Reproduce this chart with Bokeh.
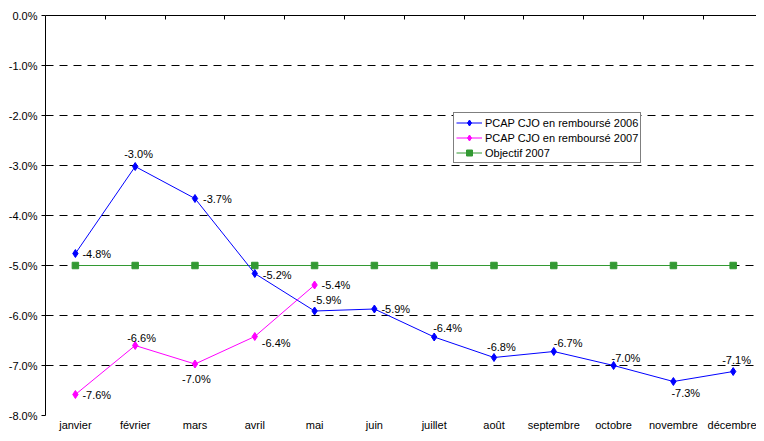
from bokeh.plotting import figure
from bokeh.models import (Range1d, LinearAxis, FixedTicker, PrintfTickFormatter,
                          Grid, ColumnDataSource, CustomLabelingPolicy)
from bokeh.core.properties import value
from bokeh.embed import file_html
from bokeh.resources import INLINE

# ---- data ----
months = ["janvier", "février", "mars", "avril", "mai", "juin", "juillet",
          "août", "septembre", "octobre", "novembre", "décembre"]
pcap_2006 = [-4.76, -3.02, -3.66, -5.16, -5.91, -5.87, -6.43, -6.84, -6.72,
             -7.00, -7.32, -7.12]
pcap_2007 = [-7.58, -6.60, -6.97, -6.42, -5.39]
objectif_2007 = [-5.0] * 12
y_ticks = [0, -1, -2, -3, -4, -5, -6, -7, -8]

# label placement (screen pixel offsets, style only)
off_2006_dx = [7, -11, 8, 8, -2, 7, -1, -7, 0, -2, -2, -11]
off_2006_dy = [0, -13, 0, 1, -11, 0, -9, -11, -9, -8, 11, -12]
off_2007_dx = [7, -8, -13, 7, 7]
off_2007_dy = [0, -8, 15, 6, 0]

FONT = "Liberation Sans"
xs = list(range(1, len(months) + 1))

p = figure(width=756, height=433, x_range=Range1d(0.5, 12.39), y_range=Range1d(-8, 0),
           output_backend="svg", toolbar_location=None,
           min_border_left=45, min_border_right=0, min_border_top=15, min_border_bottom=18)
p.outline_line_color = None
p.background_fill_color = "white"
p.border_fill_color = "white"

# bottom axis: month labels only
xa = p.xaxis[0]
xa.ticker = FixedTicker(ticks=xs)
xa.major_label_overrides = {x: m for x, m in zip(xs, months)}
xa.axis_line_color = None
xa.major_tick_line_color = None
xa.minor_tick_line_color = None
xa.major_tick_out = 0
xa.major_tick_in = 0
xa.minor_tick_out = 0
xa.minor_tick_in = 0
xa.major_label_standoff = 3
xa.major_label_text_font = FONT
xa.major_label_text_font_size = "11px"
xa.major_label_text_color = "black"

# top axis line with ticks between categories (no labels)
top = LinearAxis(ticker=FixedTicker(ticks=[x + 0.5 for x in xs[:-1]]),
                 major_tick_in=4, major_tick_out=0, minor_tick_out=0, minor_tick_in=0,
                 minor_tick_line_color=None,
                 major_label_policy=CustomLabelingPolicy(code="return []"),
                 major_label_standoff=0,
                 axis_line_color="black", major_tick_line_color="black")
p.add_layout(top, "above")

# left axis
ya = p.yaxis[0]
ya.ticker = FixedTicker(ticks=y_ticks)
ya.formatter = PrintfTickFormatter(format="%.1f%%")
ya.major_tick_out = 4
ya.major_tick_in = 0
ya.minor_tick_out = 0
ya.minor_tick_in = 0
ya.minor_tick_line_color = None
ya.major_label_standoff = 4
ya.major_label_text_font = FONT
ya.major_label_text_font_size = "11px"
ya.major_label_text_color = "black"
ya.axis_line_color = "black"
ya.major_tick_line_color = "black"

# grids
p.xgrid.visible = False
p.ygrid.ticker = FixedTicker(ticks=[t for t in y_ticks if t not in (0, -8)])
p.ygrid.grid_line_color = "black"
p.ygrid.grid_line_dash = "8 6"
p.ygrid.grid_line_width = 1
bottom_grid = Grid(dimension=1, ticker=FixedTicker(ticks=[y_ticks[-1]]),
                   grid_line_color="#999999", grid_line_dash="8 6", grid_line_width=1.5)
p.add_layout(bottom_grid)

# series
BLUE, MAG, GREEN = "#0000FF", "#FF00FF", "#339933"
l3 = "Objectif 2007"
p.line(xs, objectif_2007, color=GREEN, line_width=1, legend_label=l3)
p.scatter(xs, objectif_2007, marker="square", size=6.5, color=GREEN, legend_label=l3)

l1 = "PCAP CJO en remboursé 2006"
p.line(xs, pcap_2006, color=BLUE, line_width=1, legend_label=l1)
p.scatter(xs, pcap_2006, marker="diamond", size=8, color=BLUE, legend_label=l1)

l2 = "PCAP CJO en remboursé 2007"
x07 = xs[:len(pcap_2007)]
p.line(x07, pcap_2007, color=MAG, line_width=1, legend_label=l2)
p.scatter(x07, pcap_2007, marker="diamond", size=8, color=MAG, legend_label=l2)

# data labels
src06 = ColumnDataSource(dict(x=xs, y=pcap_2006, t=[f"{v:.1f}%" for v in pcap_2006],
                              dx=off_2006_dx, dy=off_2006_dy))
src07 = ColumnDataSource(dict(x=x07, y=pcap_2007, t=[f"{v:.1f}%" for v in pcap_2007],
                              dx=off_2007_dx, dy=off_2007_dy))
for s in (src06, src07):
    p.text(x="x", y="y", text="t", x_offset="dx", y_offset="dy", source=s,
           text_font=value(FONT), text_font_size="11px", text_color="black",
           text_align="left", text_baseline="middle")

# legend
lg = p.legend[0]
items = {it.label.value: it for it in lg.items}
lg.items = [items[l1], items[l2], items[l3]]
lg.location = (408, 252)
lg.label_text_font = FONT
lg.label_text_font_size = "11px"
lg.label_text_color = "black"
lg.border_line_color = "black"
lg.border_line_width = 1
lg.background_fill_color = "white"
lg.background_fill_alpha = 1
lg.glyph_width = 26
lg.glyph_height = 15
lg.label_height = 15
lg.spacing = 0
lg.padding = 2
lg.margin = 0
lg.label_standoff = 3

open("out.html", "w").write(file_html(p, INLINE))
